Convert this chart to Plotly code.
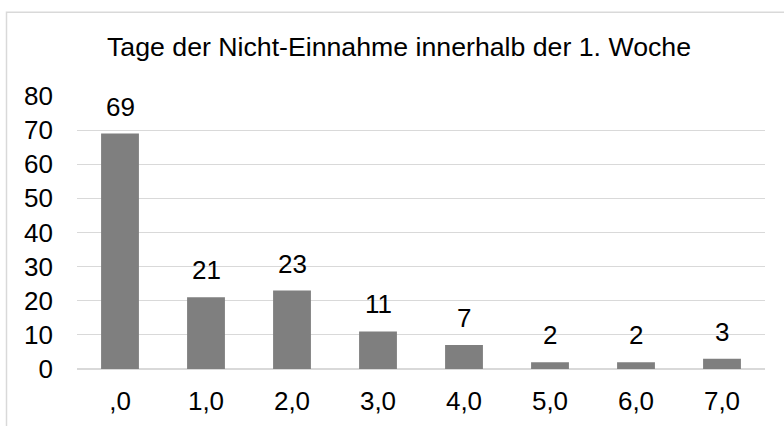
import plotly.graph_objects as go

categories = [",0", "1,0", "2,0", "3,0", "4,0", "5,0", "6,0", "7,0"]
values = [69, 21, 23, 11, 7, 2, 2, 3]
title_text = "Tage der Nicht-Einnahme innerhalb der 1. Woche"
y_ticks = [0, 10, 20, 30, 40, 50, 60, 70, 80]

W, H = 784, 426
L, R, T, B = 77, 765, 96, 369.5
FONT = "Liberation Sans, Arial, sans-serif"
FS = 26

fig = go.Figure(go.Bar(
    x=categories, y=values,
    marker=dict(color="#7f7f7f", line=dict(width=0)),
    width=0.44,
))

for c, v in zip(categories, values):
    fig.add_annotation(x=c, y=v, text=str(v), showarrow=False,
                       yanchor="middle", yshift=27,
                       font=dict(size=FS, family=FONT, color="#000000"))

pw, ph = R - L, B - T
fig.add_shape(type="rect", xref="paper", yref="paper",
              x0=(6.5 - L) / pw, x1=(W + 10 - L) / pw,
              y0=(B - (H + 10)) / ph, y1=(B - 12) / ph,
              line=dict(color="#d9d9d9", width=1.5), fillcolor="rgba(0,0,0,0)", layer="below")

fig.update_layout(
    width=W, height=H,
    margin=dict(l=L, r=W - R, t=T, b=H - B, pad=0, autoexpand=False),
    paper_bgcolor="white", plot_bgcolor="white",
    showlegend=False,
    font=dict(family=FONT, color="#000000", size=FS),
    title=dict(text=title_text, x=399 / W, xref="container", xanchor="center",
               y=1 - 47 / H, yref="container", yanchor="middle",
               font=dict(size=26.7, family=FONT, color="#000000"), automargin=False),
    bargap=0.56,
    xaxis=dict(showgrid=False, showline=False, ticks="", ticklabelstandoff=14,
               automargin=False,
               tickfont=dict(size=FS, family=FONT, color="#000000")),
    yaxis=dict(range=[0, 80], tickvals=y_ticks, showgrid=True, gridcolor="#d9d9d9",
               gridwidth=1, zeroline=True, zerolinecolor="#d9d9d9", zerolinewidth=1.5,
               showline=False, ticks="", ticklabelstandoff=23, automargin=False,
               tickfont=dict(size=FS, family=FONT, color="#000000")),
)

fig.write_html("out.html", config={"displayModeBar": False},
               post_script="document.body.style.margin='0';document.body.style.overflow='hidden';")
